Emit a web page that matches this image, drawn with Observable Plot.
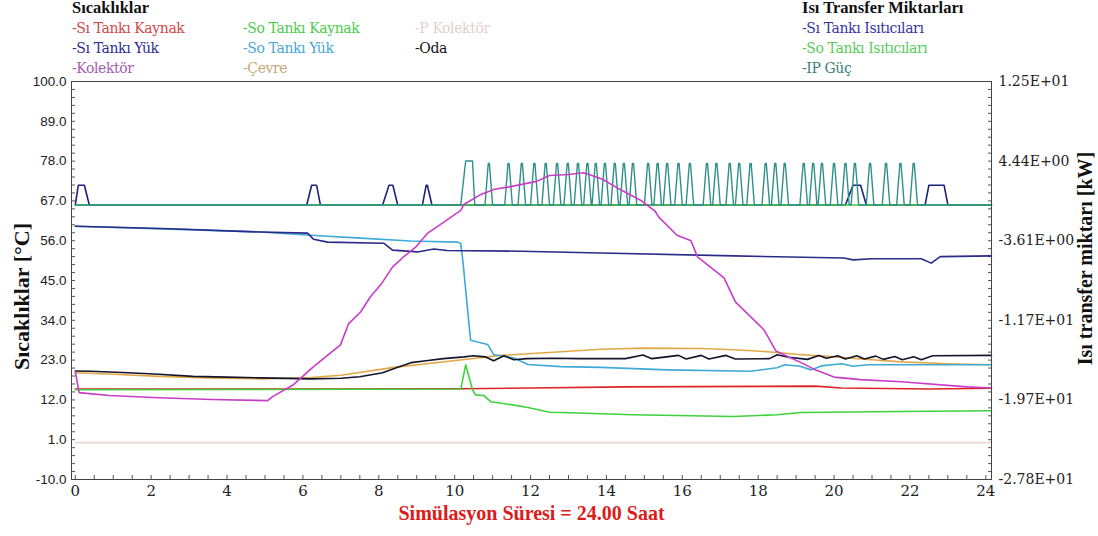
<!DOCTYPE html>
<html><head><meta charset="utf-8">
<script src="https://cdn.jsdelivr.net/npm/d3@7"></script>
<script src="https://cdn.jsdelivr.net/npm/@observablehq/plot@0.6"></script>
<style>
body{margin:0;background:#fff;width:1098px;height:536px;overflow:hidden;position:relative;font-family:"DejaVu Serif",serif;}
#legend{position:absolute;left:0;top:0;z-index:2;}
.lg{position:absolute;font-family:"DejaVu Serif",serif;font-size:14px;letter-spacing:-0.4px;line-height:18px;white-space:nowrap;}
.lgt{font-family:"Liberation Serif",serif;font-weight:bold;letter-spacing:0;font-size:16.5px;color:#111;}
#chart{position:absolute;left:0;top:60px;z-index:1;}
</style></head><body>
<div id="legend"></div>
<div id="chart"></div>
<script>
// ---------- tick labels ----------
const xTickLabels = [0, 2, 4, 6, 8, 10, 12, 14, 16, 18, 20, 22, 24];
const leftTickLabels = [100, 89, 78, 67, 56, 45, 34, 23, 12, 1, -10];
const rightTickValues = [12.5, 4.44, -3.61, -11.7, -19.7, -27.8];
const rightTickLabels = ["1.25E+01", "4.44E+00", "-3.61E+00", "-1.17E+01", "-1.97E+01", "-2.78E+01"];
const xTitle = "Simülasyon Süresi = 24.00 Saat";
const leftTitle = "Sıcaklıklar [°C]";
const rightTitle = "Isı transfer miktarı [kW]";
const tempGroupTitle = "Sıcaklıklar";
const heatGroupTitle = "Isı Transfer Miktarları";

// ---------- temperature series [hour, °C] ----------
const siTankiKaynak = [[0,15.0],[6,15.0],[10.2,15.1],[12,15.3],[14.5,15.6],[19.5,15.8],[20.2,15.3],[22.5,15.0],[24.15,15.2]];
const soTankiKaynak = [[0,14.8],[10.16,15.0],[10.29,21.7],[10.47,14.8],[10.55,13.4],[10.77,13.2],[10.95,11.5],[11.48,10.7],[11.93,9.9],[12.5,8.6],[12.8,8.5],[14.7,7.9],[17.36,7.4],[18.5,7.9],[19.13,8.5],[21.77,8.8],[24.15,9.0]];
const pKolektor = [[0,0.2],[24.15,0.2]];
const siTankiYuk = [[0,60.0],[1,59.7],[2.5,59.3],[4.88,58.4],[6.12,58.1],[6.28,56.4],[6.65,55.6],[8.13,55.3],[8.36,53.4],[9.02,52.9],[9.45,53.7],[9.8,53.3],[11.74,53.1],[13.85,52.6],[17.36,51.8],[20.26,51.2],[20.5,50.7],[21,51.0],[22.3,51.0],[22.56,49.8],[22.8,51.6],[24.15,51.8]];
const soTankiYuk = [[0,60.0],[2.5,59.2],[4.88,58.4],[6.2,57.5],[7.52,56.7],[8.84,55.9],[10.08,55.6],[10.16,55.2],[10.22,50.0],[10.34,37.0],[10.42,28.5],[10.87,27.3],[11.03,24.5],[11.56,23.6],[11.93,21.8],[12.8,21.2],[13.85,21.0],[15.6,20.3],[17.8,19.9],[18.5,20.9],[18.7,21.7],[19.1,21.3],[19.4,20.3],[19.66,21.4],[20.2,22.0],[20.5,21.3],[20.9,21.7],[24.15,21.7]];
const oda = [[0,20.0],[0.4,19.9],[1.4,19.5],[2.2,19.1],[3.1,18.5],[4,18.3],[4.9,18.1],[6.2,17.8],[7,18.0],[7.5,18.4],[8.1,19.5],[8.5,21.0],[8.85,22.3],[9.3,22.9],[9.7,23.4],[10.25,23.9],[10.5,24.2],[10.8,23.9],[11.03,22.8],[11.3,24.2],[11.56,23.1],[11.9,23.4],[12.6,23.5],[13.3,23.4],[14.5,23.4],[14.96,24.4],[15.2,23.4],[15.9,24.3],[16.1,23.3],[16.5,24.3],[16.7,23.3],[17.15,24.3],[17.4,23.3],[18.3,23.4],[18.5,24.5],[18.8,23.8],[19.3,23.2],[19.6,24.3],[19.8,23.5],[20.1,24.2],[20.3,23.3],[20.6,24.2],[20.8,23.3],[21.1,24.1],[21.3,23.2],[21.6,24.0],[21.8,23.1],[22.1,23.9],[22.3,23.1],[22.6,24.2],[24.15,24.3]];
const kolektor = [[0,19.8],[0.1,14.0],[0.9,13.2],[2.2,12.6],[3.6,12.1],[5.07,11.8],[5.2,12.9],[5.75,16.2],[6.28,21.2],[6.99,27.2],[7.2,33.0],[7.52,36.3],[7.78,40.5],[8.05,43.8],[8.36,48.7],[8.65,51.5],[8.97,54.2],[9.29,58.1],[9.63,60.5],[10.16,64.4],[10.24,66.0],[10.69,68.8],[11.05,70.2],[11.4,70.8],[12.16,72.4],[12.5,74.0],[13.0,74.3],[13.4,74.8],[13.9,73.0],[14.35,70.2],[14.9,67.2],[15.28,64.2],[15.38,62.5],[15.86,57.5],[16.23,56.0],[16.4,51.5],[17.1,45.7],[17.4,39.1],[18.15,31.4],[18.47,25.5],[18.79,23.9],[19.13,22.3],[19.47,20.5],[20.0,18.3],[20.7,17.6],[21.77,17.0],[23.5,15.6],[24.15,15.3]];
const cevre = [[0,19.5],[1,19.1],[2.2,18.5],[3.5,18.1],[4.9,17.8],[6.2,18.2],[7,18.8],[8.4,21.0],[10.2,23.1],[11.2,24.3],[12.8,25.3],[13.85,26.0],[15,26.3],[16.5,26.2],[17.5,25.8],[18.26,25.3],[19,24.6],[20,23.9],[21,23.1],[21.77,22.5],[23,22.0],[24.15,21.7]];

// ---------- heat transfer series [kW] ----------
// Sı Tankı Isıtıcıları pulses: [start, topStart, topEnd, end] in hours, level in kW
const siIsiticiPulses = [[0,0.08,0.24,0.37],[6.1,6.23,6.36,6.46],[8.1,8.27,8.37,8.5],[9.15,9.25,9.28,9.4],[20.3,20.5,20.7,20.85],[22.4,22.5,22.9,23.0]];
const siIsiticiLevel = 2.0;
const soIsitici = [[0,0],[24.15,0]];
// IP Güç: first wide pulse and the peak times of the following triangular pulses
const ipFirstPulse = [10.16, 10.29, 10.47, 10.53];
const ipFirstLevel = 4.45;
const ipPeaks = [10.9,11.42,11.77,12.1,12.4,12.7,12.98,13.25,13.5,13.72,13.96,14.22,14.46,14.7,15.1,15.35,15.6,15.9,16.2,16.65,16.9,17.25,17.5,17.8,18.2,18.45,18.7,19.2,19.45,19.68,20.0,20.3,20.55,20.95,21.37,21.75,22.1];
const ipLevel = 4.2;

// ---------- names & styles ----------
const tempNames = ["Sı Tankı Kaynak","So Tankı Kaynak","P Kolektör","Sı Tankı Yük","So Tankı Yük","Oda","Kolektör","Çevre"];
const tempLegendColors = ["#d24848","#4ccc4c","#e2d0cc","#2e2e8e","#48a8d4","#111118","#a45cb0","#c8a878"];
const heatNames = ["Sı Tankı Isıtıcıları","So Tankı Isıtıcıları","IP Güç"];
const heatLegendColors = ["#3636a2","#5acc5a","#3a7e7e"];

const C = {
  siKaynak:"#dd2424", soKaynak:"#3ed23e", pKol:"#e8d8ca", siYuk:"#2a2a88", soYuk:"#3eaad6",
  oda:"#14142c", kol:"#c83cc8", cevre:"#e2a848", siIsi:"#20207c", soIsi:"#44cc44", ip:"#2f8f8a"
};
const serifBold = "'Liberation Serif', serif";
const serifReg = "'DejaVu Serif', serif";

// ---------- legend ----------
const legend = document.getElementById("legend");
function addText(txt, left, cy, cls, color){
  const d = document.createElement("div");
  d.className = "lg " + (cls||"");
  d.textContent = txt;
  d.style.left = left + "px";
  d.style.top = (cy - 9) + "px";
  if (color) d.style.color = color;
  legend.appendChild(d);
}
addText(tempGroupTitle, 72, 8, "lgt");
const colX = [72, 243, 415], rowY = [28, 48, 68];
tempNames.forEach((n, i) => addText("-" + n, colX[i % 3], rowY[Math.floor(i / 3)], "", tempLegendColors[i]));
addText(heatGroupTitle, 802, 8, "lgt");
heatNames.forEach((n, i) => addText("-" + n, 802, rowY[i], "", heatLegendColors[i]));

// ---------- build pulse lines ----------
const xEnd = 24.15;
function trapezoids(pulses, level){
  const pts = [[0,0]];
  for (const [a,b,c,d] of pulses){ if (a > 0) pts.push([a,0]); pts.push([b,level],[c,level],[d,0]); }
  pts.push([xEnd,0]);
  return pts;
}
const siIsitici = trapezoids(siIsiticiPulses, siIsiticiLevel);
const ipGuc = (() => {
  const pts = [[0,0]];
  const [a,b,c,d] = ipFirstPulse;
  pts.push([a,0],[b,ipFirstLevel],[c,ipFirstLevel],[d,0]);
  for (const t of ipPeaks) pts.push([t-0.1,0],[t-0.015,ipLevel],[t+0.015,ipLevel],[t+0.1,0]);
  pts.push([xEnd,0]);
  return pts;
})();

const toLeft = d3.scaleLinear().domain([-27.8, 12.5]).range([-10, 100]);
const minorX = d3.range(0, 24.01, 0.5);
const minorY = d3.range(-10, 100.01, 2.2);

const tLine = (data, color, w=1.6) => Plot.line(data, {x: d => d[0], y: d => d[1], stroke: color, strokeWidth: w});
const hLine = (data, color, w=1.6) => Plot.line(data, {x: d => d[0], y: d => toLeft(d[1]), stroke: color, strokeWidth: w});

const chart = Plot.plot({
  width: 1098, height: 476,
  marginTop: 21, marginBottom: 57, marginLeft: 71, marginRight: 107,
  x: {domain: [-0.1, 24.15]},
  y: {domain: [-10, 100]},
  style: {fontFamily: serifReg, fontSize: "16px", color: "#222", background: "transparent", overflow: "visible"},
  marks: [
    Plot.axisX(xTickLabels, {tickSize: 0, tickPadding: 6, fontSize: 15, fontStretch: "condensed", label: null}),
    Plot.axisX(minorX, {tickSize: -4, tickFormat: () => "", label: null, stroke: "#555"}),
    Plot.axisY(leftTickLabels, {anchor: "left", tickSize: 0, tickPadding: 5, tickFormat: d => d.toFixed(1), fontFamily: "'Liberation Sans', Arial, sans-serif", fontSize: 13.5, label: null}),
    Plot.axisY(minorY, {anchor: "left", tickSize: -4, tickFormat: () => "", label: null, stroke: "#555"}),
    Plot.axisY(minorY, {anchor: "right", tickSize: -4, tickFormat: () => "", label: null, stroke: "#555"}),
    Plot.text(rightTickValues, {y: d => toLeft(d), text: (d, i) => rightTickLabels[i], frameAnchor: "right", textAnchor: "start", dx: 7, fontSize: 14, letterSpacing: -0.3, fill: "#222"}),
    tLine(pKolektor, C.pKol),
    tLine(cevre, C.cevre),
    tLine(siTankiKaynak, C.siKaynak),
    tLine(soTankiKaynak, C.soKaynak),
    tLine(soTankiYuk, C.soYuk),
    tLine(siTankiYuk, C.siYuk),
    tLine(oda, C.oda),
    hLine(siIsitici, C.siIsi),
    hLine(soIsitici, C.soIsi),
    hLine(ipGuc, C.ip, 1.4),
    tLine(kolektor, C.kol),
    Plot.frame({stroke: "#444"}),
    Plot.text([xTitle], {frameAnchor: "bottom", dy: 40, fill: "#dd1a1a", fontWeight: "bold", fontSize: 20, fontFamily: serifBold}),
    Plot.text([leftTitle], {frameAnchor: "left", textAnchor: "middle", dx: -50, dy: 16, rotate: -90, fontWeight: "bold", fontSize: 22, fontFamily: serifBold, fill: "#111"}),
    Plot.text([rightTitle], {frameAnchor: "right", textAnchor: "middle", dx: 94, dy: -22, rotate: -90, fontWeight: "bold", fontSize: 20, fontFamily: serifBold, fill: "#111"})
  ]
});
document.getElementById("chart").appendChild(chart);
</script>
</body></html>
